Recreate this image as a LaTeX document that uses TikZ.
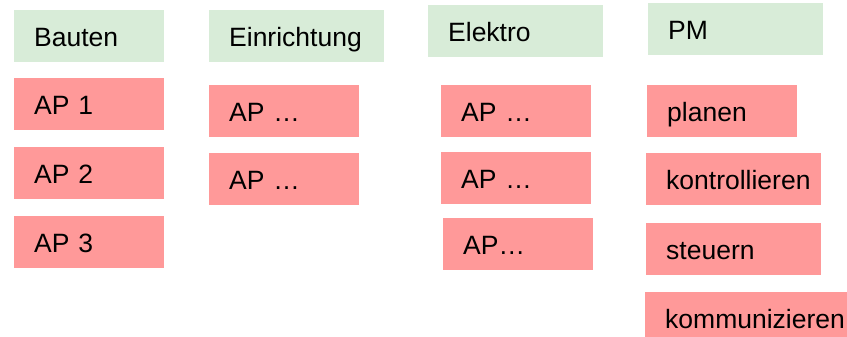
\documentclass[tikz,border=0pt]{standalone}
\usepackage{fontspec}
\setmainfont{Liberation Sans}
\definecolor{headgreen}{RGB}{216,236,216}
\definecolor{appink}{RGB}{255,153,153}
\tikzset{
  cell/.style={rectangle, anchor=north west, inner xsep=20pt, inner ysep=0pt,
    minimum height=52pt, text height=20pt, text depth=0pt, align=left,
    font=\fontsize{26.5}{30}\selectfont, text=black},
  head/.style={cell, fill=headgreen},
  ap/.style={cell, fill=appink},
  w150/.style={text width=110pt, minimum width=150pt},
  w175/.style={text width=135pt, minimum width=175pt},
  w202/.style={text width=162pt, minimum width=202pt}
}
\begin{document}
\begin{tikzpicture}[x=1pt,y=-1pt]
\useasboundingbox (0,0) rectangle (847,337);
% headers
\node[head,w150] (bauten) at (14,10) {Bauten};
\node[head,w175] (einr) at (209,10) {Einrichtung};
\node[head,w175] (elektro) at (428,5) {Elektro};
\node[head,w175] (pm) at (648,3) {PM};
% Bauten
\node[ap,w150] (ap1) at (14,78) {AP 1};
\node[ap,w150] (ap2) at (14,147) {AP 2};
\node[ap,w150] (ap3) at (14,216) {AP 3};
% Einrichtung
\node[ap,w150] (e1) at (209,85) {AP …};
\node[ap,w150] (e2) at (209,153) {AP …};
% Elektro
\node[ap,w150] (k1) at (441,85) {AP …};
\node[ap,w150] (k2) at (441,152) {AP …};
\node[ap,w150] (k3) at (443,218) {AP…};
% PM
\node[ap,w150] (planen) at (647,85) {planen};
\node[ap,w175] (kontr) at (646,153) {kontrollieren};
\node[ap,w175] (steuern) at (646,223) {steuern};
\node[ap,w202] (komm) at (645,292) {kommunizieren};
\end{tikzpicture}
\end{document}
